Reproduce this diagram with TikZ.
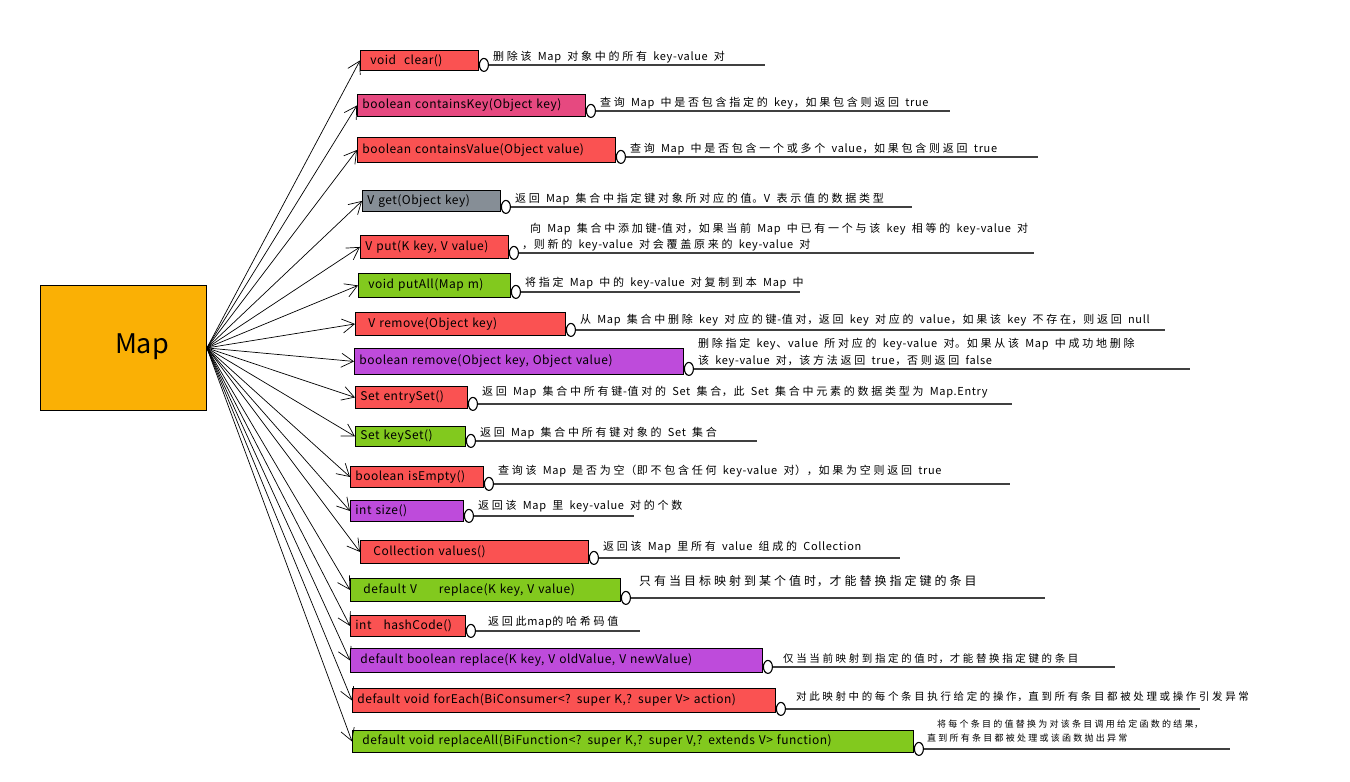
\documentclass[tikz,border=0pt]{standalone}
\usepackage{fontspec}
\setmainfont{Noto Sans CJK SC}
\newfontfamily\boxfont[LetterSpace=4]{Noto Sans CJK SC}
\newfontfamily\notefont[LetterSpace=6, WordSpace=2]{Noto Sans CJK SC}
\usetikzlibrary{shapes.geometric}
\usetikzlibrary{arrows.meta}
\usetikzlibrary{positioning}

\definecolor{mapOrange}{HTML}{FAB005}
\definecolor{methodRed}{HTML}{FA5252}
\definecolor{methodPink}{HTML}{E64980}
\definecolor{methodGray}{HTML}{868E96}
\definecolor{methodGreen}{HTML}{82C91E}
\definecolor{methodPurple}{HTML}{BE4BDB}

% a little air between Han characters
\XeTeXinterchartokenstate=1
\newXeTeXintercharclass\hanClass
\count255="4E00
\loop
  \XeTeXcharclass\count255=\hanClass
  \ifnum\count255<"9FFF \advance\count255 by 1
\repeat
\XeTeXinterchartoks\hanClass\hanClass={\hskip .25em\relax}

\begin{document}
\begin{tikzpicture}[auto, x = 1pt, y = -1pt, > = {Straight Barb[length = 12pt, width = 14pt]}]
\tikzset{
  method/.style = {draw, line width = 0.9pt, rectangle, anchor = north west, inner xsep = 5pt, inner ysep = 0pt, align = left, font = \boxfont\fontsize{12}{14}\selectfont},
  dot/.style = {draw, line width = 1.1pt, ellipse, fill = white, inner sep = 0pt, minimum width = 9pt, minimum height = 13pt},
  note/.style = {anchor = base west, inner sep = 0pt, font = \notefont\fontsize{11}{13}\selectfont},
  rule/.style = {draw = black!75, line width = 1.8pt},
  link/.style = {->, line width = 0.7pt},
}
\useasboundingbox (0,0) rectangle (1350,782);

\node [draw, line width = 0.9pt, fill = mapOrange, minimum width = 166pt, minimum height = 125pt, anchor = north west] (mapBox) at (40,285) {};
\node [font = \fontsize{27}{30}\selectfont] (mapLabel) at (142,347) {Map};

% methods
\node [method, fill = methodRed, text width = 108pt, minimum height = 20pt] (clearBox) at (360,50) {\hspace{5pt}void\ \ clear()};
\node [method, fill = methodPink, text width = 218pt, minimum height = 22pt] (containsKeyBox) at (357,94) {boolean containsKey(Object key)};
\node [method, fill = methodRed, text width = 248pt, minimum height = 25pt] (containsValueBox) at (357,137) {boolean containsValue(Object value)};
\node [method, fill = methodGray, text width = 128pt, minimum height = 21pt] (getBox) at (362,190) {V get(Object key)};
\node [method, fill = methodRed, text width = 138pt, minimum height = 23pt] (putBox) at (360,235) {V put(K key, V value)};
\node [method, fill = methodGreen, text width = 142pt, minimum height = 24pt] (putAllBox) at (358,273) {\hspace{5pt}void putAll(Map m)};
\node [method, fill = methodRed, text width = 200pt, minimum height = 23pt] (removeBox) at (355,312) {\hspace{8pt}V remove(Object key)};
\node [method, fill = methodPurple, text width = 319pt, minimum height = 26pt] (removePairBox) at (354,348) {boolean remove(Object key, Object value)};
\node [method, fill = methodRed, text width = 102pt, minimum height = 22pt] (entrySetBox) at (355,386) {Set entrySet()};
\node [method, fill = methodGreen, text width = 100pt, minimum height = 20pt] (keySetBox) at (355,426) {Set keySet()};
\node [method, fill = methodRed, text width = 123pt, minimum height = 21pt] (isEmptyBox) at (350,466) {boolean isEmpty()};
\node [method, fill = methodPurple, text width = 103pt, minimum height = 21pt] (sizeBox) at (350,500) {int size()};
\node [method, fill = methodRed, text width = 218pt, minimum height = 23pt] (valuesBox) at (360,540) {\hspace{8pt}Collection values()};
\node [method, fill = methodGreen, text width = 260pt, minimum height = 23pt] (replaceBox) at (350,578) {\hspace{8pt}default V\hspace{22pt}replace(K key, V value)};
\node [method, fill = methodRed, text width = 105pt, minimum height = 21pt] (hashCodeBox) at (350,615) {int\ \ \ hashCode()};
\node [method, fill = methodPurple, text width = 402pt, minimum height = 24pt] (replaceOldBox) at (350,648) {\hspace{5pt}default boolean replace(K key, V oldValue, V newValue)};
\node [method, fill = methodRed, text width = 413pt, minimum height = 24pt] (forEachBox) at (352,688) {default void forEach(BiConsumer<? super K,? super V> action)};
\node [method, fill = methodGreen, text width = 551pt, minimum height = 22pt] (replaceAllBox) at (352,730) {\hspace{5pt}default void replaceAll(BiFunction<? super K,? super V,? extends V> function)};

% arrows from Map
\foreach \target in {clearBox, containsKeyBox, containsValueBox, getBox, putBox, putAllBox, removeBox, removePairBox, entrySetBox, keySetBox, isEmptyBox, sizeBox, valuesBox, replaceBox, hashCodeBox, replaceOldBox, forEachBox, replaceAllBox}
  \draw [link] (mapBox.east) -- (\target.west);

% dots, notes and rules
\node [dot] (clearDot) at ([xshift = 5pt, yshift = 6pt]clearBox.south east) {};
\node [note] (clearNote) at ([xshift = 4pt, yshift = 4pt]clearDot.east) {删除该 Map 对象中的所有 key-value 对};
\coordinate (clearEnd) at (clearDot.east -| 765,0);
\draw [rule] (clearDot.east) -- (clearEnd);

\node [dot] (containsKeyDot) at ([xshift = 5pt, yshift = 6pt]containsKeyBox.south east) {};
\node [note] (containsKeyNote) at ([xshift = 4pt, yshift = 4pt]containsKeyDot.east) {查询 Map 中是否包含指定的 key，如果包含则返回 true};
\coordinate (containsKeyEnd) at (containsKeyDot.east -| 950,0);
\draw [rule] (containsKeyDot.east) -- (containsKeyEnd);

\node [dot] (containsValueDot) at ([xshift = 5pt, yshift = 6pt]containsValueBox.south east) {};
\node [note] (containsValueNote) at ([xshift = 4pt, yshift = 4pt]containsValueDot.east) {查询 Map 中是否包含一个或多个 value，如果包含则返回 true};
\coordinate (containsValueEnd) at (containsValueDot.east -| 1038,0);
\draw [rule] (containsValueDot.east) -- (containsValueEnd);

\node [dot] (getDot) at ([xshift = 5pt, yshift = 5pt]getBox.south east) {};
\node [note] (getNote) at ([xshift = 4pt, yshift = 4pt]getDot.east) {返回 Map 集合中指定键对象所对应的值。V 表示值的数据类型};
\coordinate (getEnd) at (getDot.east -| 912,0);
\draw [rule] (getDot.east) -- (getEnd);

\node [dot] (putDot) at ([xshift = 5pt, yshift = 6pt]putBox.south east) {};
\node [note] (putNote) at ([xshift = 3pt, yshift = 4pt]putDot.east) {，则新的 key-value 对会覆盖原来的 key-value 对};
\node [note, anchor = south west, above right = 4pt and 8pt of putNote.north west] (putNoteTop) {向 Map 集合中添加键-值对，如果当前 Map 中已有一个与该 key 相等的 key-value 对};
\coordinate (putEnd) at (putDot.east -| 1034,0);
\draw [rule] (putDot.east) -- (putEnd);

\node [dot] (putAllDot) at ([xshift = 5pt, yshift = 6pt]putAllBox.south east) {};
\node [note] (putAllNote) at ([xshift = 4pt, yshift = 5pt]putAllDot.east) {将指定 Map 中的 key-value 对复制到本 Map 中};
\coordinate (putAllEnd) at (putAllDot.east -| 800,0);
\draw [rule] (putAllDot.east) -- (putAllEnd);

\node [dot] (removeDot) at ([xshift = 5pt, yshift = 6pt]removeBox.south east) {};
\node [note] (removeNote) at ([xshift = 4pt, yshift = 6pt]removeDot.east) {从 Map 集合中删除 key 对应的键-值对，返回 key 对应的 value，如果该 key 不存在，则返回 null};
\coordinate (removeEnd) at (removeDot.east -| 1165,0);
\draw [rule] (removeDot.east) -- (removeEnd);

\node [dot] (removePairDot) at ([xshift = 5pt, yshift = 6pt]removePairBox.south east) {};
\node [note] (removePairNote) at ([xshift = 4pt, yshift = 4pt]removePairDot.east) {该 key-value 对，该方法返回 true，否则返回 false};
\node [note, anchor = south west, above right = 5pt and 0pt of removePairNote.north west] (removePairNoteTop) {删除指定 key、value 所对应的 key-value 对。如果从该 Map 中成功地删除};
\coordinate (removePairEnd) at (removePairDot.east -| 1190,0);
\draw [rule] (removePairDot.east) -- (removePairEnd);

\node [dot] (entrySetDot) at ([xshift = 5pt, yshift = 5pt]entrySetBox.south east) {};
\node [note] (entrySetNote) at ([xshift = 4pt, yshift = 8pt]entrySetDot.east) {返回 Map 集合中所有键-值对的 Set 集合，此 Set 集合中元素的数据类型为 Map.Entry};
\coordinate (entrySetEnd) at (entrySetDot.east -| 1012,0);
\draw [rule] (entrySetDot.east) -- (entrySetEnd);

\node [dot] (keySetDot) at ([xshift = 5pt, yshift = 6pt]keySetBox.south east) {};
\node [note] (keySetNote) at ([xshift = 4pt, yshift = 4pt]keySetDot.east) {返回 Map 集合中所有键对象的 Set 集合};
\coordinate (keySetEnd) at (keySetDot.east -| 757,0);
\draw [rule] (keySetDot.east) -- (keySetEnd);

\node [dot] (isEmptyDot) at ([xshift = 5pt, yshift = 4pt]isEmptyBox.south east) {};
\node [note] (isEmptyNote) at ([xshift = 4pt, yshift = 9pt]isEmptyDot.east) {查询该 Map 是否为空（即不包含任何 key-value 对），如果为空则返回 true};
\coordinate (isEmptyEnd) at (isEmptyDot.east -| 1010,0);
\draw [rule] (isEmptyDot.east) -- (isEmptyEnd);

\node [dot] (sizeDot) at ([xshift = 5pt, yshift = 6pt]sizeBox.south east) {};
\node [note] (sizeNote) at ([xshift = 4pt, yshift = 6pt]sizeDot.east) {返回该 Map 里 key-value 对的个数};
\coordinate (sizeEnd) at (sizeDot.east -| 634,0);
\draw [rule] (sizeDot.east) -- (sizeEnd);

\node [dot] (valuesDot) at ([xshift = 5pt, yshift = 6pt]valuesBox.south east) {};
\node [note] (valuesNote) at ([xshift = 4pt, yshift = 7pt]valuesDot.east) {返回该 Map 里所有 value 组成的 Collection};
\coordinate (valuesEnd) at (valuesDot.east -| 900,0);
\draw [rule] (valuesDot.east) -- (valuesEnd);

\node [dot] (replaceDot) at ([xshift = 5pt, yshift = 4pt]replaceBox.south east) {};
\node [note, font = \notefont\fontsize{12}{14}\selectfont] (replaceNote) at ([xshift = 8pt, yshift = 12pt]replaceDot.east) {只有当目标映射到某个值时，才能替换指定键的条目};
\coordinate (replaceEnd) at (replaceDot.east -| 1045,0);
\draw [rule] (replaceDot.east) -- (replaceEnd);

\node [dot] (hashCodeDot) at ([xshift = 5pt, yshift = 6pt]hashCodeBox.south east) {};
\node [note] (hashCodeNote) at ([xshift = 12pt, yshift = 5pt]hashCodeDot.east) {返回此map的哈希码值};
\coordinate (hashCodeEnd) at (hashCodeDot.east -| 640,0);
\draw [rule] (hashCodeDot.east) -- (hashCodeEnd);

\node [dot] (replaceOldDot) at ([xshift = 5pt, yshift = 6pt]replaceOldBox.south east) {};
\node [note, font = \notefont\fontsize{10.5}{12}\selectfont] (replaceOldNote) at ([xshift = 10pt, yshift = 4pt]replaceOldDot.east) {仅当当前映射到指定的值时，才能替换指定键的条目};
\coordinate (replaceOldEnd) at (replaceOldDot.east -| 1115,0);
\draw [rule] (replaceOldDot.east) -- (replaceOldEnd);

\node [dot] (forEachDot) at ([xshift = 5pt, yshift = 4pt]forEachBox.south east) {};
\node [note, font = \notefont\fontsize{10.5}{12}\selectfont] (forEachNote) at ([xshift = 10pt, yshift = 8pt]forEachDot.east) {对此映射中的每个条目执行给定的操作，直到所有条目都被处理或操作引发异常};
\coordinate (forEachEnd) at (forEachDot.east -| 1200,0);
\draw [rule] (forEachDot.east) -- (forEachEnd);

\node [dot] (replaceAllDot) at ([xshift = 5pt, yshift = 4pt]replaceAllBox.south east) {};
\node [note, font = \notefont\fontsize{9}{11}\selectfont] (replaceAllNote) at ([xshift = 3pt, yshift = 7pt]replaceAllDot.east) {直到所有条目都被处理或该函数抛出异常};
\node [note, font = \notefont\fontsize{9}{11}\selectfont, anchor = south west, above right = 5pt and 10pt of replaceAllNote.north west] (replaceAllNoteTop) {将每个条目的值替换为对该条目调用给定函数的结果，};
\coordinate (replaceAllEnd) at (replaceAllDot.east -| 1230,0);
\draw [rule] (replaceAllDot.east) -- (replaceAllEnd);
\end{tikzpicture}
\end{document}
